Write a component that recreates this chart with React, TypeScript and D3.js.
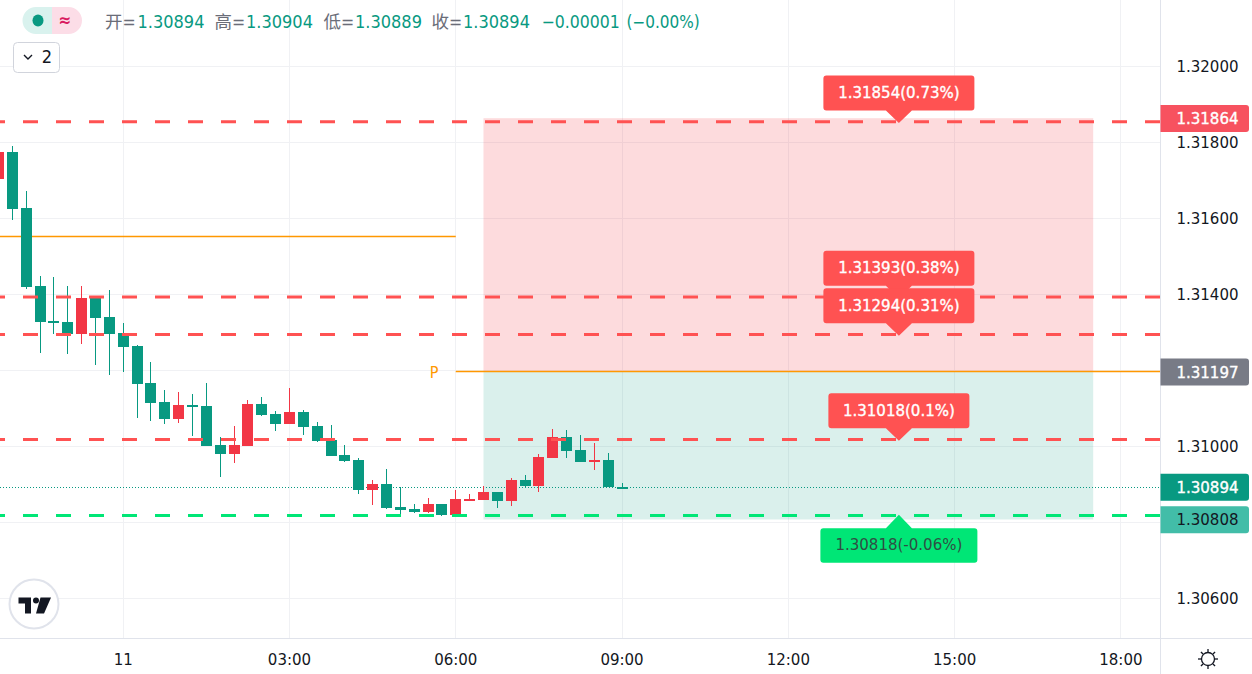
import React from "react";
import * as d3 from "d3";

const W = 1252, H = 674;
const FONT = "'DejaVu Sans Condensed', 'DejaVu Sans', sans-serif";
const CJK = "'DejaVu Sans Condensed', 'Noto Sans CJK SC', sans-serif";

const GREEN = "#089981", RED = "#f23645", GREY = "#6a6d78";

// candle series, one value per 15-minute bar, first bar at 21:45 the day before
const FIRST_BAR_MIN = -135;
const BAR_MIN = 15;
const opens = [1.31704,1.31775,1.31628,1.31422,1.3133,1.31328,1.31296,1.31391,1.31341,1.31299,1.31264,1.31167,1.31117,1.31072,1.31109,1.31107,1.31004,1.3098,1.31001,1.31112,1.31086,1.31059,1.31091,1.31054,1.31017,1.30978,1.30964,1.30886,1.30901,1.30841,1.30836,1.30828,1.30849,1.3082,1.30859,1.30859,1.3088,1.30857,1.30912,1.30896,1.3097,1.31025,1.30991,1.30959,1.30964,1.30894];
const highs = [1.3179,1.31791,1.31672,1.31449,1.31446,1.31422,1.31422,1.31396,1.31412,1.31325,1.31267,1.31222,1.31149,1.31143,1.31138,1.31167,1.31025,1.31054,1.31122,1.3113,1.31093,1.31154,1.31096,1.31064,1.31057,1.31004,1.3097,1.30912,1.30941,1.30893,1.30849,1.30864,1.30849,1.30886,1.30875,1.30896,1.3088,1.30917,1.30925,1.3098,1.31046,1.31043,1.3103,1.31009,1.30983,1.30904];
const lows = [1.317,1.31596,1.31414,1.31246,1.31296,1.31243,1.3127,1.31214,1.31188,1.31196,1.31075,1.31067,1.31059,1.31062,1.31028,1.31001,1.3092,1.30957,1.31001,1.3108,1.31041,1.31059,1.3103,1.31012,1.30975,1.30959,1.30875,1.30846,1.30836,1.3082,1.30825,1.30825,1.30817,1.30817,1.30859,1.30859,1.30838,1.30843,1.30891,1.3088,1.3097,1.3097,1.30959,1.30938,1.30893,1.30889];
const closes = [1.31775,1.31625,1.3142,1.31328,1.31325,1.31296,1.31391,1.31338,1.31296,1.31262,1.31164,1.31114,1.31072,1.31109,1.31104,1.31001,1.3098,1.31004,1.31112,1.31083,1.31059,1.31091,1.31051,1.31014,1.30975,1.30962,1.30886,1.30901,1.30838,1.30833,1.30828,1.30849,1.3082,1.30862,1.30862,1.3088,1.30857,1.30912,1.30896,1.30972,1.31025,1.30988,1.30959,1.30964,1.30893,1.30894];

const priceTicks = [1.32, 1.318, 1.316, 1.314, 1.312, 1.31, 1.308, 1.306];
const priceTickLabels = ["1.32000", "1.31800", "1.31600", "1.31400", "", "1.31000", "", "1.30600"];
const timeTicks = [0, 180, 360, 540, 720, 900, 1080];
const timeTickLabels = ["11", "03:00", "06:00", "09:00", "12:00", "15:00", "18:00"];

const zoneTop = 1.31864, zoneMid = 1.31197, zoneBottom = 1.30808;
const zoneStartMin = 390, zoneEndMin = 1050;
const lastPrice = 1.30894;
const olderOrange = 1.31552;

const targetPrices = [1.31854, 1.31393, 1.31294, 1.31018];
const targetTexts = ["1.31854(0.73%)", "1.31393(0.38%)", "1.31294(0.31%)", "1.31018(0.1%)"];
const stopPrice = 1.30818;
const stopText = "1.30818(-0.06%)";

const legendTexts = ["开=", "1.30894", "高=", "1.30904", "低=", "1.30889", "收=", "1.30894", "−0.00001", "(−0.00%)"];
const axisPrices = [zoneTop, zoneMid, lastPrice, zoneBottom];
const axisPriceLabels = ["1.31864", "1.31197", "1.30894", "1.30808"];

// layout and style, kept apart from the values above
const LEGEND_X = [105, 137.5, 214.5, 246, 323.5, 355, 431.5, 463, 541.5, 626.5];
const LEGEND_SIZE = [17.5, 18, 17.5, 18, 17.5, 18, 17.5, 18, 17.5, 17];
const TARGET_HALF_WIDTH = [75.5, 75.5, 75.5, 70.5];
const AXIS_FILL = ["#f7525f", "#787b86", GREEN, "#42bda8"];
const AXIS_INK = ["#ffffff", "#ffffff", "#ffffff", "#131722"];

const PLOT_R = 1160.5, PLOT_B = 638.5;
const x = d3.scaleLinear().domain([0, 1080]).range([123.2, 1120.9]);
const y = d3.scaleLinear().domain([1.306, 1.32]).range([598.5, 66.5]);
const crisp = (v: number) => Math.floor(v) + 0.5;

const bars = opens.map((o, i) => ({
  t: FIRST_BAR_MIN + i * BAR_MIN, o, h: highs[i], l: lows[i], c: closes[i],
}));

function DashLine({ p, color }: { p: number; color: string }) {
  return <line x1={-10} x2={PLOT_R} y1={y(p) - 0.2} y2={y(p) - 0.2} stroke={color} strokeWidth={3} strokeDasharray="15 18" />;
}

function boxPath(cx: number, hw: number, top: number, bottom: number, apex: number) {
  const r = 3;
  const p = d3.path();
  const l = cx - hw, rr = cx + hw;
  p.moveTo(l + r, top);
  if (apex < top) { p.lineTo(cx - 13, top); p.lineTo(cx, apex); p.lineTo(cx + 13, top); }
  p.lineTo(rr - r, top);
  p.arcTo(rr, top, rr, top + r, r);
  p.lineTo(rr, bottom - r);
  p.arcTo(rr, bottom, rr - r, bottom, r);
  if (apex > bottom) { p.lineTo(cx + 13, bottom); p.lineTo(cx, apex); p.lineTo(cx - 13, bottom); }
  p.lineTo(l + r, bottom);
  p.arcTo(l, bottom, l, bottom - r, r);
  p.lineTo(l, top + r);
  p.arcTo(l, top, l + r, top, r);
  p.closePath();
  return p.toString();
}

export default function App() {
  const labelCx = x(840) - 0.3;
  const sunAngles = d3.range(0, 360, 45);
  const lastY = Math.round(y(lastPrice)) + 0.5;
  return (
    <svg width={W} height={H} style={{ position: "absolute", left: 0, top: 0, background: "#fff" }} fontFamily={FONT}>
      {/* grid */}
      {priceTicks.map((p) => (
        <line key={p} x1={0} x2={PLOT_R} y1={y(p)} y2={y(p)} stroke="#f0f1f4" />
      ))}
      {timeTicks.map((t) => (
        <line key={t} x1={crisp(x(t))} x2={crisp(x(t))} y1={0} y2={PLOT_B} stroke="#f0f1f4" />
      ))}

      {/* profit / loss zones */}
      <rect x={x(zoneStartMin)} width={x(zoneEndMin) - x(zoneStartMin)} y={y(zoneTop)} height={y(zoneMid) - y(zoneTop)} fill={RED} fillOpacity={0.18} />
      <rect x={x(zoneStartMin)} width={x(zoneEndMin) - x(zoneStartMin)} y={y(zoneMid)} height={y(zoneBottom) - y(zoneMid)} fill={GREEN} fillOpacity={0.15} />

      {/* orange lines */}
      <line x1={0} x2={x(360)} y1={crisp(y(olderOrange))} y2={crisp(y(olderOrange))} stroke="#ff9800" strokeWidth={1.4} />
      <line x1={x(360)} x2={PLOT_R} y1={crisp(y(zoneMid))} y2={crisp(y(zoneMid))} stroke="#ff9800" strokeWidth={1.4} />
      <text x={434} y={373} fill="#ff9800" fontSize={16} textAnchor="middle" dominantBaseline="middle">P</text>

      {/* last price line */}
      <line x1={0} x2={PLOT_R} y1={lastY} y2={lastY} stroke={GREEN} strokeDasharray="1 2" />

      {/* candles */}
      {bars.map((b) => {
        const cx = crisp(x(b.t));
        const col = b.c <= b.o ? GREEN : RED;
        const top = Math.round(y(Math.max(b.o, b.c)));
        const bot = Math.max(Math.round(y(Math.min(b.o, b.c))), top + 2);
        return (
          <g key={b.t}>
            <rect x={cx - 0.5} width={1} y={Math.round(y(b.h))} height={Math.round(y(b.l)) - Math.round(y(b.h))} fill={col} />
            <rect x={cx - 5.5} width={11} y={top} height={bot - top} fill={col} />
          </g>
        );
      })}

      {/* dashed levels */}
      {targetPrices.map((p) => <DashLine key={p} p={p} color="#ff5252" />)}
      <DashLine p={stopPrice} color="#00e676" />

      {/* level labels */}
      {targetPrices.map((p, i) => {
        const apex = y(p) + 1;
        const bottom = apex - 12.5;
        const top = bottom - 35;
        return (
          <g key={p}>
            <path d={boxPath(labelCx, TARGET_HALF_WIDTH[i], top, bottom, apex)} fill="#ff5252" />
            <text x={labelCx} y={(top + bottom) / 2 + 0.5} fill="#fff" fontSize={16.7} fontWeight={500} stroke="#fff" strokeWidth={0.35} textAnchor="middle" dominantBaseline="middle">{targetTexts[i]}</text>
          </g>
        );
      })}
      <path d={boxPath(labelCx, 78.5, y(stopPrice) + 12.5, y(stopPrice) + 47, y(stopPrice) - 1)} fill="#00e676" />
      <text x={labelCx} y={y(stopPrice) + 30} fill="#2f4f44" fontSize={16.7} textAnchor="middle" dominantBaseline="middle">{stopText}</text>

      {/* axis panels */}
      <rect x={PLOT_R} y={0} width={W - PLOT_R} height={H} fill="#fff" />
      <rect x={0} y={PLOT_B} width={W} height={H - PLOT_B} fill="#fff" />
      <line x1={PLOT_R} x2={PLOT_R} y1={0} y2={H} stroke="#e0e3eb" />
      <line x1={0} x2={W} y1={PLOT_B} y2={PLOT_B} stroke="#e0e3eb" />

      {priceTicks.map((p, i) => (
        <text key={p} x={1207.5} y={y(p) + 0.5} fill="#131722" fontSize={16.7} textAnchor="middle" dominantBaseline="middle">{priceTickLabels[i]}</text>
      ))}
      {timeTicks.map((t, i) => (
        <text key={t} x={x(t)} y={660.5} fill="#131722" fontSize={16.7} textAnchor="middle" dominantBaseline="middle">{timeTickLabels[i]}</text>
      ))}
      {axisPrices.map((p, i) => {
        const cy = y(p) + 0.4;
        const ink = AXIS_INK[i];
        return (
          <g key={p}>
            <path d={`M1160.5,${cy - 13.5}H1246a3,3 0 0 1 3,3V${cy + 10.5}a3,3 0 0 1 -3,3H1160.5Z`} fill={AXIS_FILL[i]} />
            <text x={1207.5} y={cy + 1} fill={ink} fontSize={16.7} stroke={ink === "#ffffff" ? ink : "none"} strokeWidth={0.35} textAnchor="middle" dominantBaseline="middle">{axisPriceLabels[i]}</text>
          </g>
        );
      })}

      {/* legend */}
      <path d="M52,7H36a13.5,13.5 0 0 0 0,27H52Z" fill="#d9f2ee" />
      <path d="M52,7H68.5a13.5,13.5 0 0 1 0,27H52Z" fill="#fcdde7" />
      <ellipse cx={38} cy={20.5} rx={5.5} ry={6} fill={GREEN} />
      <text x={65} y={21} fill="#d81b60" fontSize={17} fontWeight={700} textAnchor="middle" dominantBaseline="middle">≈</text>
      {legendTexts.map((t, i) => (
        <text key={i} x={LEGEND_X[i]} y={28} fill={i < 8 && i % 2 === 0 ? GREY : GREEN} fontSize={LEGEND_SIZE[i]} fontFamily={CJK}>{t}</text>
      ))}
      <rect x={13.5} y={42.5} width={46} height={30} rx={4} fill="#fff" stroke="#d1d4dc" />
      <path d="M24,55l4,4l4,-4" fill="none" stroke="#131722" strokeWidth={1.4} />
      <text x={47} y={58} fill="#131722" fontSize={18} textAnchor="middle" dominantBaseline="middle">2</text>

      {/* logo */}
      <circle cx={34} cy={604} r={24.5} fill="#fff" stroke="#e0e3eb" strokeWidth={2} />
      <path d="M18.5,597.5H31V613.5H25V603.5H18.5Z" fill="#131722" />
      <circle cx={36} cy={600.5} r={3} fill="#131722" />
      <path d="M40.5,597.5H51L44,613.5H36Z" fill="#131722" />

      {/* settings sun icon */}
      <circle cx={1208} cy={659} r={6.5} fill="none" stroke="#131722" strokeWidth={1.3} />
      {sunAngles.map((a) => {
        const r = (a * Math.PI) / 180;
        return (
          <line key={a} x1={1208 + Math.cos(r) * 7} y1={659 + Math.sin(r) * 7} x2={1208 + Math.cos(r) * 10} y2={659 + Math.sin(r) * 10} stroke="#131722" strokeWidth={1.3} />
        );
      })}
    </svg>
  );
}
